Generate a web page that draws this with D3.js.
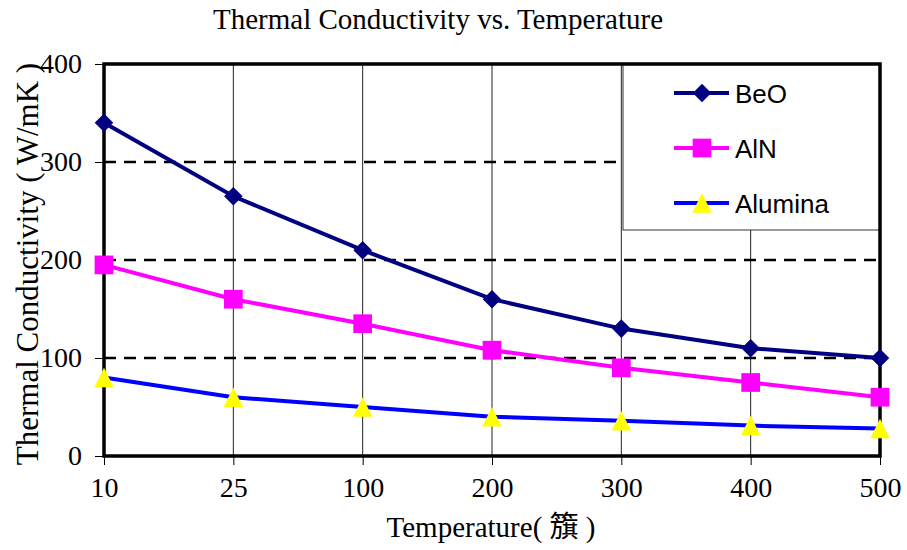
<!DOCTYPE html>
<html>
<head>
<meta charset="utf-8">
<script src="https://cdn.jsdelivr.net/npm/d3@7"></script>
<style>
  body { margin: 0; background: #fff; }
  svg { display: block; }
  .serif { font-family: "Liberation Serif", "Times New Roman", serif; }
</style>
</head>
<body>
<div id="chart"></div>
<script>
// chart data
var temperatures = ["10", "25", "100", "200", "300", "400", "500"];
var beoValues = [340, 265, 210, 160, 130, 110, 100];
var alnValues = [195, 160, 135, 108, 90, 75, 60];
var aluminaValues = [80, 60, 50, 40, 36, 31, 28];
var yTicks = [0, 100, 200, 300, 400];

// triangle marker: base and height of equal size
var symbolTri = {
    draw: function(ctx, size) {
        var s = Math.sqrt(size * 2) / 2;
        ctx.moveTo(0, -s);
        ctx.lineTo(s, s);
        ctx.lineTo(-s, s);
        ctx.closePath();
    }
};

var series = [
    {name: "BeO", values: beoValues, line: "#000080", fill: "#000080", symbol: d3.symbolDiamond2, size: 220},
    {name: "AlN", values: alnValues, line: "#ff00ff", fill: "#ff00ff", symbol: d3.symbolSquare, size: 350},
    {name: "Alumina", values: aluminaValues, line: "#0000ff", fill: "#ffff00", symbol: symbolTri, size: 190}
];

var width = 907, height = 550;
var margin = {top: 64, right: 27, bottom: 94, left: 104};
var w = width - margin.left - margin.right,
    h = height - margin.top - margin.bottom;

var svg = d3.select("#chart").append("svg")
    .attr("width", width)
    .attr("height", height);

var g = svg.append("g")
    .attr("transform", "translate(" + margin.left + "," + margin.top + ")");

var x = d3.scalePoint().domain(temperatures).range([0, w]);
var y = d3.scaleLinear().domain([0, 400]).range([h, 0]);

// vertical gridlines
g.selectAll(".vgrid").data(temperatures).enter()
    .append("line")
    .attr("x1", function(d) { return x(d); })
    .attr("x2", function(d) { return x(d); })
    .attr("y1", 0).attr("y2", h)
    .attr("stroke", "#222").attr("stroke-width", 1);

// horizontal dashed gridlines
g.selectAll(".hgrid").data(yTicks.filter(function(d) { return d > 0 && d < 400; })).enter()
    .append("line")
    .attr("x1", 0).attr("x2", w)
    .attr("y1", function(d) { return y(d); })
    .attr("y2", function(d) { return y(d); })
    .attr("stroke", "#000").attr("stroke-width", 2.5)
    .attr("stroke-dasharray", "12,8");

// y axis
var yAxis = g.append("g")
    .call(d3.axisLeft(y).tickValues(yTicks).tickSize(9).tickPadding(13));
yAxis.select(".domain").remove();
yAxis.selectAll("text")
    .attr("class", "serif")
    .style("font-size", "28px").attr("fill", "#000");

// x axis
var xAxis = g.append("g")
    .attr("transform", "translate(0," + h + ")")
    .call(d3.axisBottom(x).tickSize(9).tickPadding(12));
xAxis.select(".domain").remove();
xAxis.selectAll("text")
    .attr("class", "serif")
    .style("font-size", "28px").attr("fill", "#000");

// legend box (drawn over grid, under frame)
var legend = g.append("g").attr("transform", "translate(" + (w - 257) + ",0)");
legend.append("rect")
    .attr("x", 0).attr("y", 0)
    .attr("width", 257).attr("height", 166)
    .attr("fill", "#fff").attr("stroke", "#333").attr("stroke-width", 1);

// plot frame
g.append("rect")
    .attr("x", 0).attr("y", 0)
    .attr("width", w).attr("height", h)
    .attr("fill", "none").attr("stroke", "#000").attr("stroke-width", 3.5);

// lines
var line = d3.line()
    .x(function(d, i) { return x(temperatures[i]); })
    .y(function(d) { return y(d); });

series.forEach(function(s) {
    g.append("path")
        .datum(s.values)
        .attr("d", line)
        .attr("fill", "none")
        .attr("stroke", s.line)
        .attr("stroke-width", 4);
});

series.forEach(function(s) {
    g.selectAll(null).data(s.values).enter()
        .append("path")
        .attr("transform", function(d, i) { return "translate(" + x(temperatures[i]) + "," + y(d) + ")"; })
        .attr("d", d3.symbol().type(s.symbol).size(s.size))
        .attr("fill", s.fill);
});

// legend entries
series.forEach(function(s, i) {
    var row = legend.append("g").attr("transform", "translate(0," + (29 + i * 55) + ")");
    row.append("line")
        .attr("x1", 51).attr("x2", 106)
        .attr("stroke", s.line).attr("stroke-width", 4);
    row.append("path")
        .attr("transform", "translate(79,0)")
        .attr("d", d3.symbol().type(s.symbol).size(s.size))
        .attr("fill", s.fill);
    row.append("text")
        .attr("x", 112).attr("y", 9.5)
        .style("font-family", "'Liberation Sans', Arial, sans-serif")
        .style("font-size", "26px")
        .text(s.name);
});

// title
svg.append("text")
    .attr("class", "serif")
    .attr("x", 438).attr("y", 29)
    .attr("text-anchor", "middle")
    .style("font-size", "29px")
    .text("Thermal Conductivity vs. Temperature");

// x label
svg.append("text")
    .attr("x", 491).attr("y", 537)
    .attr("text-anchor", "middle")
    .style("font-family", "'Liberation Serif', 'Times New Roman', 'Noto Sans CJK TC', serif")
    .style("font-size", "29px")
    .text("Temperature( 籏 )");

// y label
svg.append("text")
    .attr("class", "serif")
    .attr("transform", "translate(38," + (margin.top + h / 2 + 4) + ") rotate(-90)")
    .attr("text-anchor", "middle")
    .style("font-size", "31px")
    .text("Thermal Conductivity ( W/mK )");
</script>
</body>
</html>
